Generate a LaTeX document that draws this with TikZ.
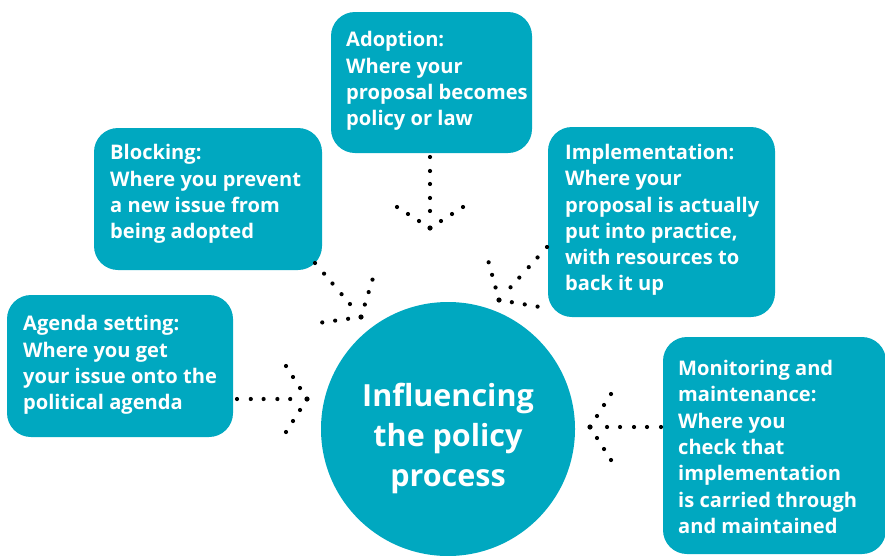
\documentclass[tikz,border=0pt]{standalone}
\usepackage{fontspec}
\setmainfont{Open Sans}
\usetikzlibrary{calc}
\definecolor{policyteal}{RGB}{0,168,192}

% a dotted connector: five shaft dots, a tip dot and a chevron of dots
\newcommand\dottedarrow[2]{%
  \foreach \f in {0,0.197,0.38,0.577,0.76} \fill[dotmark] ($(#1)!\f!(#2)$) circle (2.1);
  \fill[dotmark] (#2) circle (2.6);
  \coordinate (back) at ($(#2)!21pt!(#1)$);
  \coordinate (wl) at ($(back)!33pt!90:(#2)$);
  \coordinate (wr) at ($(back)!33pt!-90:(#2)$);
  \foreach \f in {0.333,0.667,1} {
    \fill[dotmark] ($(#2)!\f!(wl)$) circle (2.1);
    \fill[dotmark] ($(#2)!\f!(wr)$) circle (2.1);
  }%
}

\tikzset{
  stagebox/.style={fill=policyteal, draw=none, rounded corners=24pt, inner sep=0pt},
  stagetext/.style={text=white, font=\bfseries\fontsize{20.1}{26.3}\selectfont,
    align=left, anchor=west, inner sep=0pt},
  hubtext/.style={text=white, font=\bfseries\fontsize{30.5}{40}\selectfont,
    align=center, inner sep=0pt},
  dotmark/.style={fill=black},
}

\begin{document}
\begin{tikzpicture}[x=1pt, y=-1pt]
\clip (0,0) rectangle (885,555);
\fill[white] (0,0) rectangle (885,555);

% central circle
\fill[policyteal] (448,429) circle (127);
\node[hubtext] (hub) at (448,438) {Influencing\\the policy\\process};

% stage boxes
\node[stagebox, minimum width=201, minimum height=141] (adopt) at (431.5,82.5) {};
\node[stagebox, minimum width=228, minimum height=142] (block) at (208,199) {};
\node[stagebox, minimum width=227, minimum height=190] (impl) at (661.5,222) {};
\node[stagebox, minimum width=226, minimum height=142] (agenda) at (120,366) {};
\node[stagebox, minimum width=223, minimum height=217] (monitor) at (774.5,445.5) {};

% stage texts
\node[stagetext] (adoptT) at (346,81) {Adoption:\\Where your\\proposal becomes\\policy or law};
\node[stagetext] (blockT) at (110,194) {Blocking:\\Where you prevent\\a new issue from\\being adopted};
\node[stagetext] (implT) at (565,220) {Implementation:\\Where your\\proposal is actually\\put into practice,\\with resources to\\back it up};
\node[stagetext] (agendaT) at (23,365) {Agenda setting:\\Where you get\\your issue onto the\\political agenda};
\node[stagetext] (monitorT) at (678,447) {Monitoring and\\maintenance:\\Where you\\check that\\implementation\\is carried through\\and maintained};

% connector ends
\coordinate (adoptS) at (430,157);   \coordinate (adoptE) at (430,228);
\coordinate (blockS) at (315,263);   \coordinate (blockE) at (361,317);
\coordinate (implS) at (547,247);    \coordinate (implE) at (499,300);
\coordinate (agendaS) at (237,399);  \coordinate (agendaE) at (307,399);
\coordinate (monitorS) at (661,427); \coordinate (monitorE) at (590,427);

\dottedarrow{adoptS}{adoptE}
\dottedarrow{blockS}{blockE}
\dottedarrow{implS}{implE}
\dottedarrow{agendaS}{agendaE}
\dottedarrow{monitorS}{monitorE}
\end{tikzpicture}
\end{document}
